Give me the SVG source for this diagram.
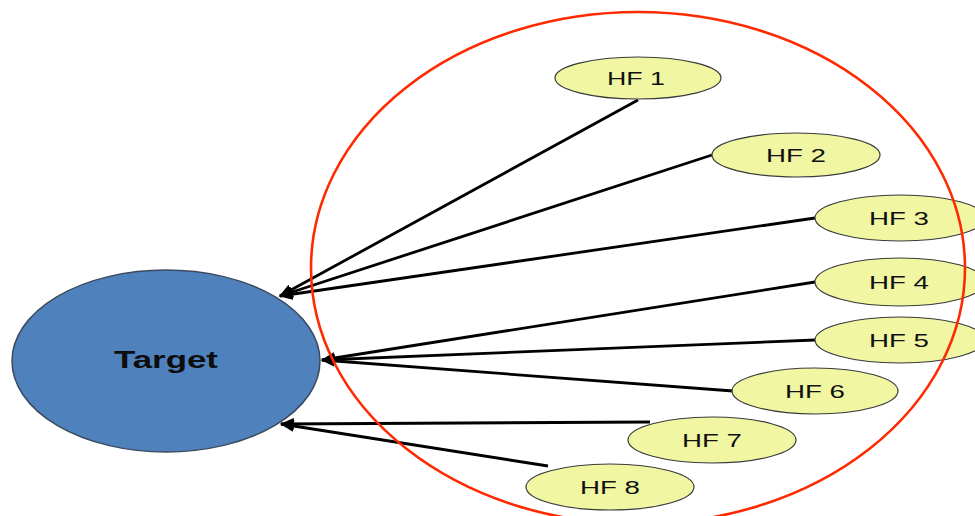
<svg xmlns="http://www.w3.org/2000/svg" width="975" height="516" viewBox="0 0 975 516">
<style>
.hf ellipse{fill:#F0F6A2;stroke:#3a3a3a;stroke-width:1.2}
.hf text{font-family:"Liberation Sans",Arial,sans-serif;font-size:19px;fill:#111;text-anchor:middle}
.c line{stroke:#000;stroke-width:2.8;marker-end:url(#ah)}
</style>
<defs>
<marker id="ah" viewBox="0 0 12 10" refX="11" refY="5" markerWidth="5" markerHeight="4.2" orient="auto" markerUnits="strokeWidth">
<path d="M0,0 L12,5 L0,10 z" fill="#000"/>
</marker>
</defs>
<rect width="975" height="516" fill="#fff"/>
<g id="target">
<ellipse cx="166" cy="361" rx="154" ry="91" fill="#4F81BD" stroke="#3b4a5e" stroke-width="1.5"/>
<text x="166" y="368" font-family="'Liberation Sans',Arial,sans-serif" font-size="24" font-weight="bold" fill="#0d0d0d" text-anchor="middle" textLength="104" lengthAdjust="spacingAndGlyphs">Target</text>
</g>
<g class="c" id="connectors">
<line x1="638" y1="100" x2="280" y2="296"/>
<line x1="712" y1="155" x2="280" y2="296"/>
<line x1="815" y1="218" x2="280" y2="296"/>
<line x1="815" y1="282" x2="322" y2="360"/>
<line x1="815" y1="340" x2="322" y2="360"/>
<line x1="733" y1="391" x2="322" y2="360"/>
<line x1="650" y1="422" x2="281" y2="424"/>
<line x1="548" y1="466" x2="281" y2="424"/>
</g>
<g class="hf" id="hf1"><ellipse cx="638" cy="78" rx="83" ry="21"/><text x="636" y="85" textLength="58" lengthAdjust="spacingAndGlyphs">HF 1</text></g>
<g class="hf" id="hf2"><ellipse cx="796" cy="155" rx="84" ry="22"/><text x="796" y="162" textLength="60" lengthAdjust="spacingAndGlyphs">HF 2</text></g>
<g class="hf" id="hf3"><ellipse cx="900" cy="218" rx="85" ry="23"/><text x="899" y="225" textLength="60" lengthAdjust="spacingAndGlyphs">HF 3</text></g>
<g class="hf" id="hf4"><ellipse cx="900" cy="282" rx="85" ry="24"/><text x="899" y="289" textLength="60" lengthAdjust="spacingAndGlyphs">HF 4</text></g>
<g class="hf" id="hf5"><ellipse cx="900" cy="340" rx="85" ry="23"/><text x="899" y="347" textLength="60" lengthAdjust="spacingAndGlyphs">HF 5</text></g>
<g class="hf" id="hf6"><ellipse cx="815" cy="391" rx="83" ry="23"/><text x="815" y="398" textLength="60" lengthAdjust="spacingAndGlyphs">HF 6</text></g>
<g class="hf" id="hf7"><ellipse cx="712" cy="440" rx="84" ry="23"/><text x="712" y="447" textLength="60" lengthAdjust="spacingAndGlyphs">HF 7</text></g>
<g class="hf" id="hf8"><ellipse cx="610" cy="487" rx="84" ry="23"/><text x="610" y="494" textLength="60" lengthAdjust="spacingAndGlyphs">HF 8</text></g>
<g id="boundary">
<ellipse cx="638" cy="268" rx="327" ry="256" fill="none" stroke="#FF2A00" stroke-width="2.6"/>
</g>
</svg>
